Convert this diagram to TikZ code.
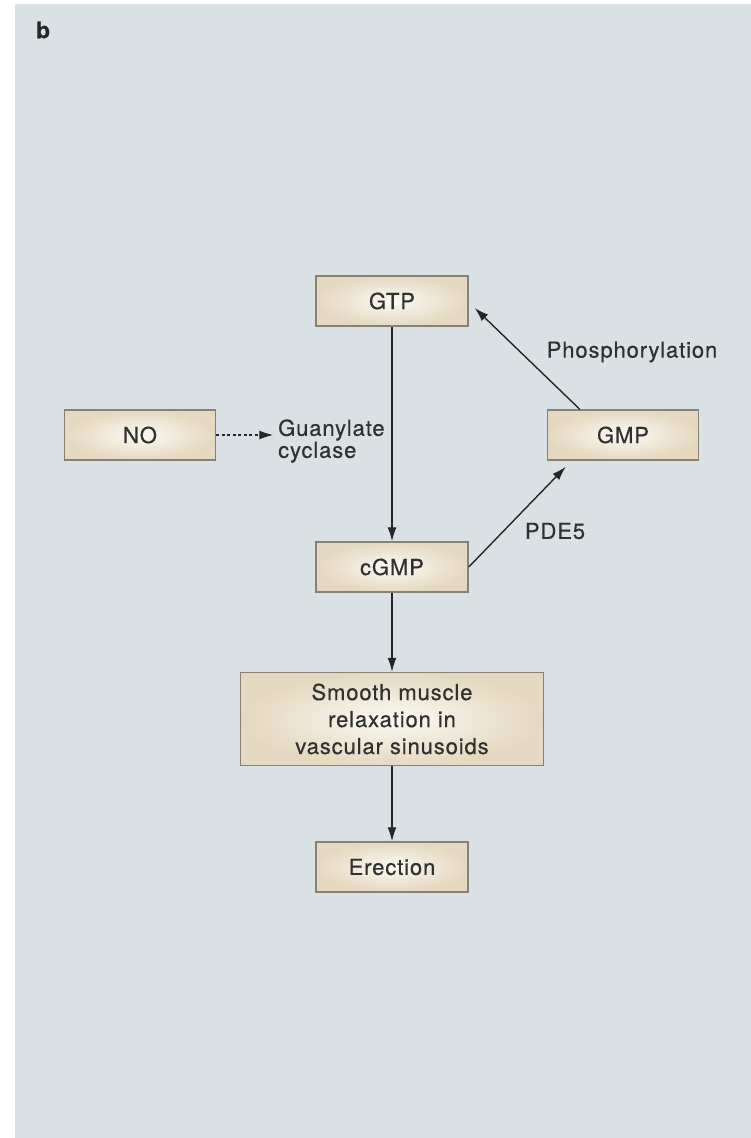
\documentclass[tikz,border=0pt]{standalone}
\usepackage{fontspec}
\setmainfont[LetterSpace=4,FakeBold=0.5]{TeX Gyre Heros}
\usetikzlibrary{arrows.meta,calc}
\definecolor{bg}{RGB}{218,225,228}
\definecolor{boxin}{RGB}{251,249,242}
\definecolor{boxout}{RGB}{228,217,192}
\definecolor{boxline}{RGB}{135,130,118}
\definecolor{txt}{RGB}{48,48,48}
\tikzset{
  box/.style={draw=boxline, line width=1.5pt, inner color=boxin, outer color=boxout,
    minimum width=152pt, minimum height=50pt, inner sep=0pt, text=txt,
    font=\fontsize{22}{27}\selectfont, align=center},
  lbl/.style={text=txt, font=\fontsize{22}{22}\selectfont, inner sep=0pt},
  arr/.style={draw=black!85, line width=1.4pt, -{Latex[length=14pt,width=9pt]}},
}
\begin{document}
\begin{tikzpicture}[x=1pt,y=-1pt]
\fill[white] (0,0) rectangle (751,1138);
\fill[bg] (15,4) rectangle (751,1138);
\useasboundingbox (0,0) rectangle (751,1138);

\node[font=\fontsize{23}{23}\selectfont\bfseries, text=black!85] (b) at (43,30) {b};

\node[box] (gtp) at (392,301) {GTP};
\node[box, minimum width=151pt] (no) at (140,435) {NO};
\node[box, minimum width=151pt] (gmp) at (623,435) {GMP};
\node[box] (cgmp) at (392,567) {cGMP};
\node[box, minimum width=303pt, minimum height=93pt] (smr) at (392,719) {Smooth muscle\\relaxation in\\vascular sinusoids};
\node[box] (ere) at (392,867) {Erection};

\node[lbl, anchor=west, align=left] (gc) at (278,441) {Guanylate\\cyclase};
\node[lbl] (ph) at (632,352) {Phosphorylation};
\node[lbl] (pde) at (555,531) {PDE5};

\coordinate (gmpin) at ($(gmp.south west)+(19,6)$);
\coordinate (gmpout) at ($(gmp.north west)+(33,0)$);
\coordinate (gtpin) at ($(gtp.east)+(6,7)$);
\coordinate (gcin) at ($(no.east)+(57,0)$);

\draw[arr, dash pattern=on 3pt off 2.5pt] (no.east) -- (gcin);
\draw[arr] (gtp.south) -- (cgmp.north);
\draw[arr] (cgmp.east) -- (gmpin);
\draw[arr] (gmpout) -- (gtpin);
\draw[arr] (cgmp.south) -- (smr.north);
\draw[arr] (smr.south) -- (ere.north);
\end{tikzpicture}
\end{document}
